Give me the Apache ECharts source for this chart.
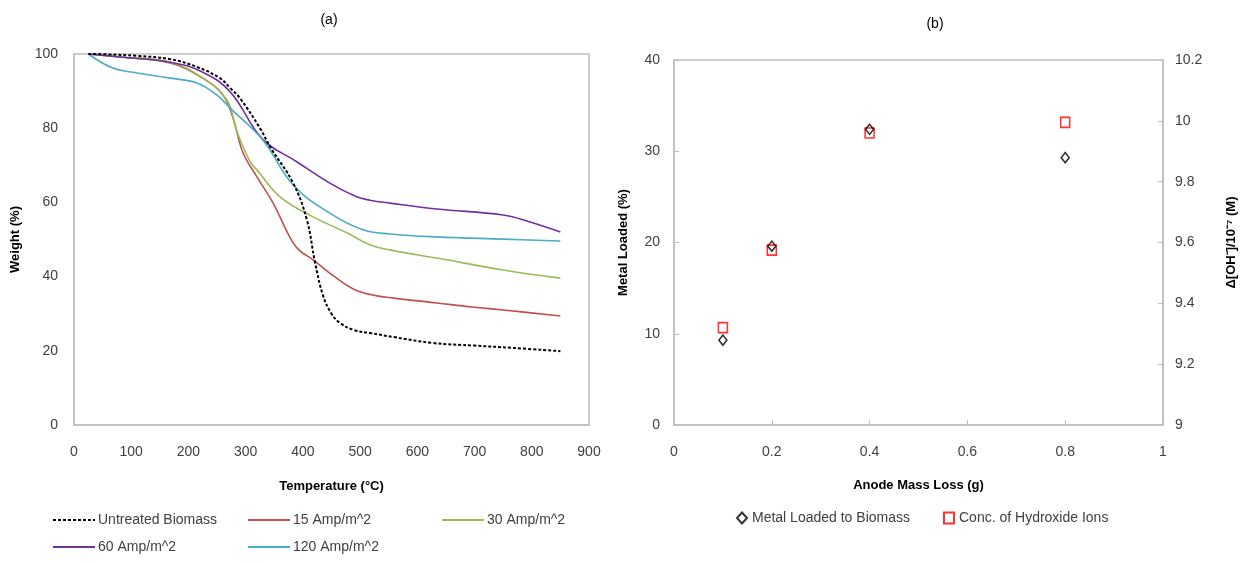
<!DOCTYPE html>
<html>
<head>
<meta charset="utf-8">
<script src="https://cdn.jsdelivr.net/npm/echarts@6/dist/echarts.min.js"></script>
<style>
html,body{margin:0;padding:0;background:#fff;}
#c{width:1241px;height:563px;}
</style>
</head>
<body>
<div id="c"></div>
<script>
// ---------- Panel (a): TGA curves ----------
var seriesNamesA = ['Untreated Biomass', '15 Amp/m^2', '30 Amp/m^2', '60 Amp/m^2', '120 Amp/m^2'];
var tempUntreated = [25, 60, 110, 168, 215, 255, 273, 290, 325, 343, 383, 407, 421, 435, 450, 465, 489, 517, 559, 627, 700, 765, 850];
var wUntreated    = [100, 99.9, 99.5, 98.6, 96.5, 93.5, 90.8, 88.1, 80, 74.9, 65.2, 55.3, 44, 35, 30, 27.5, 25.6, 24.8, 23.7, 22.1, 21.4, 20.8, 19.9];
var temp15 = [25, 80, 168, 225, 260, 278, 295, 320, 348, 377, 393, 418, 456, 489, 517, 559, 634, 696, 750, 850];
var w15    = [100, 99.2, 97.6, 93.5, 89, 82.7, 73.5, 66.8, 59.8, 50.7, 47.2, 44.5, 39.9, 36.6, 35.2, 34.2, 32.9, 31.8, 31, 29.4];
var temp30 = [25, 80, 168, 225, 267, 285, 308, 320, 360, 418, 477, 517, 552, 634, 750, 850];
var w30    = [100, 99.2, 97.8, 93.5, 87.6, 79, 70.9, 68.7, 61.5, 56.1, 51.8, 48.6, 47.2, 45, 41.8, 39.6];
var temp60 = [25, 80, 168, 225, 273, 330, 390, 447, 494, 517, 552, 634, 750, 797, 850];
var w60    = [100, 99.2, 97.8, 95.1, 89.8, 77, 70.9, 65.2, 61.5, 60.6, 59.8, 58.2, 56.6, 54.7, 52];
var temp120 = [25, 68, 110, 168, 215, 250, 273, 330, 383, 447, 505, 552, 634, 750, 850];
var w120    = [100, 96.2, 94.9, 93.5, 92.2, 88.9, 85.4, 76.8, 64.7, 57.1, 52.6, 51.5, 50.7, 50.1, 49.6];
var tempTicks = [0, 100, 200, 300, 400, 500, 600, 700, 800, 900];
var weightTicks = [0, 20, 40, 60, 80, 100];

// ---------- Panel (b): scatter ----------
var seriesNamesB = ['Metal Loaded to Biomass', 'Conc. of Hydroxide Ions'];
var massLoss = [0.1, 0.2, 0.4, 0.8];
var metalLoaded = [9.3, 19.6, 32.4, 29.3];
var hydroxide = [9.32, 9.575, 9.96, 9.995];
var massTicks = [0, 0.2, 0.4, 0.6, 0.8, 1];
var metalTicks = [0, 10, 20, 30, 40];
var hydroxideTicks = [9, 9.2, 9.4, 9.6, 9.8, 10, 10.2];

function zip(a, b) { return a.map(function (v, i) { return [v, b[i]]; }); }

var FONT = "'Liberation Sans', Arial, sans-serif";
var GRID_C = '#bfbfbf';
var TXT = '#404040';
var colorsA = ['#000000', '#c0504d', '#9bbb59', '#7030a0', '#4bacc6'];

var chart = echarts.init(document.getElementById('c'), null, {renderer: 'canvas'});

var lineSeries = [
  [tempUntreated, wUntreated],
  [temp15, w15],
  [temp30, w30],
  [temp60, w60],
  [temp120, w120]
].map(function (d, i) {
  return {
    type: 'line', name: seriesNamesA[i], xAxisIndex: 0, yAxisIndex: 0,
    data: zip(d[0], d[1]), smooth: 0.4, symbol: 'none', showSymbol: false,
    lineStyle: {color: colorsA[i], width: i === 0 ? 2 : 1.6, type: i === 0 ? [3, 2] : 'solid'},
    itemStyle: {color: colorsA[i]},
    z: i === 0 ? 3 : 2
  };
});

var legendPos = [[52, 513], [247, 513], [441, 513], [52, 540], [247, 540]];
var legendsA = seriesNamesA.map(function (n, i) {
  return {
    data: [n], left: legendPos[i][0], top: legendPos[i][1],
    itemWidth: 42, itemHeight: 14, itemGap: 0,
    itemStyle: {opacity: 0},
    textStyle: {fontFamily: FONT, fontSize: 14, color: TXT, padding: [0, 0, 0, -2]},
    padding: 0, selectedMode: false
  };
});

function axisCommon() {
  return {
    axisLine: {show: true, lineStyle: {color: GRID_C, width: 1.5}},
    splitLine: {show: false},
    axisLabel: {fontFamily: FONT, fontSize: 14, color: TXT},
    nameTextStyle: {fontFamily: FONT, fontSize: 13, fontWeight: 'bold', color: '#000'}
  };
}

var option = {
  backgroundColor: '#ffffff',
  animation: false,
  title: [
    {text: '(a)', left: 324, top: 8, textAlign: 'center', textStyle: {fontFamily: FONT, fontSize: 14, fontWeight: 'normal', color: '#000'}},
    {text: '(b)', left: 930, top: 12, textAlign: 'center', textStyle: {fontFamily: FONT, fontSize: 14, fontWeight: 'normal', color: '#000'}}
  ],
  grid: [
    {left: 74, right: 652, top: 54, bottom: 138, show: true, borderColor: GRID_C, borderWidth: 1.5, containLabel: false},
    {left: 674, right: 78, top: 60, bottom: 138, show: true, borderColor: GRID_C, borderWidth: 1.5, containLabel: false}
  ],
  xAxis: [
    Object.assign(axisCommon(), {
      type: 'value', gridIndex: 0, min: tempTicks[0], max: tempTicks[tempTicks.length - 1], interval: 100,
      name: 'Temperature (°C)', nameLocation: 'middle', nameGap: 55,
      axisTick: {show: false}, axisLabel: {fontFamily: FONT, fontSize: 14, color: TXT, margin: 20}
    }),
    Object.assign(axisCommon(), {
      type: 'value', gridIndex: 1, min: massTicks[0], max: massTicks[massTicks.length - 1], interval: 0.2,
      name: 'Anode Mass Loss (g)', nameLocation: 'middle', nameGap: 54,
      axisTick: {show: true, inside: true, length: 5, lineStyle: {color: GRID_C}},
      axisLabel: {fontFamily: FONT, fontSize: 14, color: TXT, margin: 20,
        formatter: function (v) { return String(Math.round(v * 10) / 10); }}
    })
  ],
  yAxis: [
    Object.assign(axisCommon(), {
      type: 'value', gridIndex: 0, min: weightTicks[0], max: weightTicks[weightTicks.length - 1], interval: 20,
      name: 'Weight (%)', nameLocation: 'middle', nameGap: 52, nameRotate: 90,
      axisTick: {show: false}, axisLabel: {fontFamily: FONT, fontSize: 14, color: TXT, margin: 16}
    }),
    Object.assign(axisCommon(), {
      type: 'value', gridIndex: 1, min: metalTicks[0], max: metalTicks[metalTicks.length - 1], interval: 10,
      name: 'Metal Loaded (%)', nameLocation: 'middle', nameGap: 44, nameRotate: 90,
      axisTick: {show: true, inside: true, length: 5, lineStyle: {color: GRID_C}},
      axisLabel: {fontFamily: FONT, fontSize: 14, color: TXT, margin: 14}
    }),
    Object.assign(axisCommon(), {
      type: 'value', gridIndex: 1, position: 'right',
      min: hydroxideTicks[0], max: hydroxideTicks[hydroxideTicks.length - 1], interval: 0.2,
      name: 'Δ[OH⁻]/10⁻⁷ (M)', nameLocation: 'middle', nameGap: 62, nameRotate: 90,
      axisTick: {show: true, inside: true, length: 5, lineStyle: {color: GRID_C}},
      axisLabel: {fontFamily: FONT, fontSize: 14, color: TXT, margin: 12,
        formatter: function (v) { return String(Math.round(v * 10) / 10); }}
    })
  ],
  legend: legendsA.concat([
    {
      data: [seriesNamesB[0]], left: 736, top: 511, itemWidth: 10, itemHeight: 11,
      textStyle: {fontFamily: FONT, fontSize: 14, color: TXT}, padding: 0, selectedMode: false
    },
    {
      data: [seriesNamesB[1]], left: 943, top: 511, itemWidth: 10, itemHeight: 11,
      textStyle: {fontFamily: FONT, fontSize: 14, color: TXT}, padding: 0, selectedMode: false
    }
  ]),
  series: lineSeries.concat([
    {
      type: 'scatter', name: seriesNamesB[1], xAxisIndex: 1, yAxisIndex: 2,
      data: zip(massLoss, hydroxide), symbol: 'rect', symbolSize: [9, 10],
      itemStyle: {color: '#ffffff', borderColor: '#ff0000', borderWidth: 1.6}, z: 3
    },
    {
      type: 'scatter', name: seriesNamesB[0], xAxisIndex: 1, yAxisIndex: 1,
      data: zip(massLoss, metalLoaded), symbol: 'diamond', symbolSize: [8, 10],
      itemStyle: {color: 'rgba(255,255,255,0)', borderColor: '#000000', borderWidth: 1.6}, z: 4
    }
  ])
};
chart.setOption(option);
</script>
</body>
</html>
